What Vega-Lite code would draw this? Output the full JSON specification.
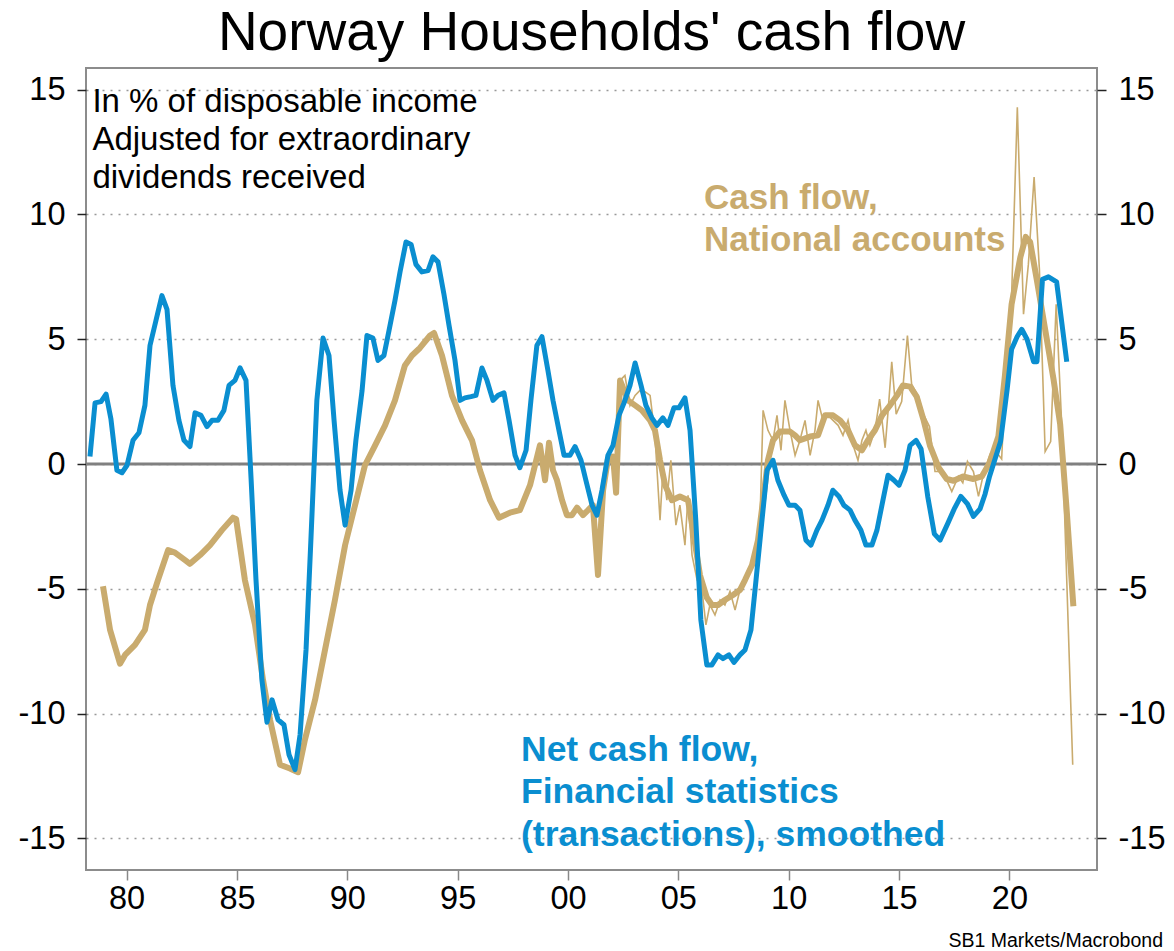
{
  "$schema": "https://vega.github.io/schema/vega-lite/v6.json",
  "width": 1011,
  "height": 802,
  "autosize": {"type": "none"},
  "padding": {"left": 86, "top": 68, "right": 77, "bottom": 81},
  "background": "white",
  "config": {
    "font": "Liberation Sans",
    "view": {"stroke": "#8c8c8c", "strokeWidth": 2},
    "axis": {"labelFont": "Liberation Sans", "labelColor": "black"}
  },
  "title": {"text": "Norway Households' cash flow", "fontSize": 55, "fontWeight": "normal", "color": "black", "anchor": "middle", "offset": 6, "font": "Liberation Sans"},
  "datasets": {
    "blue": [
      {"t":1978.34,"v":0.3},{"t":1978.57,"v":2.45},{"t":1978.84,"v":2.5},{"t":1979.07,"v":2.8},{"t":1979.29,"v":1.8},{"t":1979.56,"v":-0.25},{"t":1979.79,"v":-0.35},{"t":1980.02,"v":-0.05},{"t":1980.29,"v":0.95},{"t":1980.56,"v":1.25},{"t":1980.83,"v":2.35},{"t":1981.06,"v":4.75},{"t":1981.33,"v":5.75},{"t":1981.6,"v":6.75},{"t":1981.83,"v":6.2},{"t":1982.1,"v":3.15},{"t":1982.37,"v":1.75},{"t":1982.6,"v":0.95},{"t":1982.87,"v":0.7},{"t":1983.1,"v":2.05},{"t":1983.37,"v":1.95},{"t":1983.64,"v":1.5},{"t":1983.87,"v":1.75},{"t":1984.14,"v":1.75},{"t":1984.41,"v":2.15},{"t":1984.64,"v":3.15},{"t":1984.91,"v":3.35},{"t":1985.14,"v":3.85},{"t":1985.41,"v":3.35},{"t":1985.64,"v":-0.6},{"t":1985.86,"v":-4.6},{"t":1986.13,"v":-8.65},{"t":1986.36,"v":-10.35},{"t":1986.59,"v":-9.45},{"t":1986.86,"v":-10.25},{"t":1987.13,"v":-10.45},{"t":1987.36,"v":-11.65},{"t":1987.63,"v":-12.25},{"t":1987.86,"v":-10.85},{"t":1988.13,"v":-7.45},{"t":1988.35,"v":-3.05},{"t":1988.62,"v":2.55},{"t":1988.9,"v":5.05},{"t":1989.17,"v":4.35},{"t":1989.4,"v":1.75},{"t":1989.67,"v":-1.05},{"t":1989.9,"v":-2.45},{"t":1990.17,"v":-1.05},{"t":1990.39,"v":0.95},{"t":1990.67,"v":2.95},{"t":1990.89,"v":5.15},{"t":1991.16,"v":5.05},{"t":1991.39,"v":4.15},{"t":1991.66,"v":4.35},{"t":1991.89,"v":5.35},{"t":1992.16,"v":6.55},{"t":1992.39,"v":7.7},{"t":1992.66,"v":8.9},{"t":1992.89,"v":8.8},{"t":1993.11,"v":8.0},{"t":1993.38,"v":7.7},{"t":1993.66,"v":7.75},{"t":1993.88,"v":8.3},{"t":1994.11,"v":8.1},{"t":1994.38,"v":6.8},{"t":1994.61,"v":5.55},{"t":1994.88,"v":4.15},{"t":1995.11,"v":2.55},{"t":1995.33,"v":2.65},{"t":1995.6,"v":2.7},{"t":1995.83,"v":2.75},{"t":1996.1,"v":3.85},{"t":1996.33,"v":3.35},{"t":1996.6,"v":2.55},{"t":1996.83,"v":2.75},{"t":1997.1,"v":2.85},{"t":1997.33,"v":1.75},{"t":1997.6,"v":0.35},{"t":1997.82,"v":-0.15},{"t":1998.1,"v":0.55},{"t":1998.32,"v":2.55},{"t":1998.59,"v":4.75},{"t":1998.82,"v":5.1},{"t":1999.09,"v":3.75},{"t":1999.32,"v":2.55},{"t":1999.59,"v":1.35},{"t":1999.82,"v":0.35},{"t":2000.09,"v":0.35},{"t":2000.32,"v":0.7},{"t":2000.59,"v":0.15},{"t":2000.81,"v":-0.65},{"t":2001.09,"v":-1.65},{"t":2001.31,"v":-2.05},{"t":2001.54,"v":-1.05},{"t":2001.81,"v":0.35},{"t":2002.04,"v":0.75},{"t":2002.31,"v":1.95},{"t":2002.54,"v":2.45},{"t":2002.81,"v":3.15},{"t":2003.04,"v":4.05},{"t":2003.31,"v":3.15},{"t":2003.53,"v":2.35},{"t":2003.8,"v":1.85},{"t":2004.03,"v":1.55},{"t":2004.3,"v":1.85},{"t":2004.53,"v":1.55},{"t":2004.8,"v":2.25},{"t":2005.03,"v":2.25},{"t":2005.3,"v":2.65},{"t":2005.53,"v":1.35},{"t":2005.79,"v":-2.25},{"t":2006.02,"v":-6.25},{"t":2006.29,"v":-8.05},{"t":2006.52,"v":-8.05},{"t":2006.8,"v":-7.65},{"t":2007.02,"v":-7.8},{"t":2007.29,"v":-7.65},{"t":2007.52,"v":-7.95},{"t":2007.79,"v":-7.65},{"t":2008.02,"v":-7.45},{"t":2008.29,"v":-6.65},{"t":2008.52,"v":-4.65},{"t":2008.79,"v":-2.25},{"t":2009.02,"v":-0.25},{"t":2009.29,"v":0.15},{"t":2009.51,"v":-0.65},{"t":2009.79,"v":-1.25},{"t":2010.01,"v":-1.65},{"t":2010.29,"v":-1.65},{"t":2010.51,"v":-1.85},{"t":2010.78,"v":-3.05},{"t":2011.01,"v":-3.25},{"t":2011.28,"v":-2.65},{"t":2011.51,"v":-2.25},{"t":2011.78,"v":-1.65},{"t":2012.0,"v":-1.05},{"t":2012.28,"v":-1.3},{"t":2012.5,"v":-1.65},{"t":2012.78,"v":-1.85},{"t":2013.0,"v":-2.25},{"t":2013.27,"v":-2.65},{"t":2013.5,"v":-3.25},{"t":2013.77,"v":-3.25},{"t":2014.0,"v":-2.65},{"t":2014.27,"v":-1.45},{"t":2014.5,"v":-0.45},{"t":2014.77,"v":-0.65},{"t":2015.0,"v":-0.85},{"t":2015.27,"v":-0.25},{"t":2015.5,"v":0.75},{"t":2015.77,"v":0.95},{"t":2016.0,"v":0.6},{"t":2016.3,"v":-1.3},{"t":2016.6,"v":-2.8},{"t":2016.86,"v":-3.05},{"t":2017.2,"v":-2.4},{"t":2017.5,"v":-1.8},{"t":2017.8,"v":-1.3},{"t":2018.1,"v":-1.6},{"t":2018.37,"v":-2.1},{"t":2018.67,"v":-1.8},{"t":2018.9,"v":-1.2},{"t":2019.1,"v":-0.5},{"t":2019.35,"v":0.2},{"t":2019.6,"v":0.9},{"t":2019.9,"v":3.0},{"t":2020.1,"v":4.6},{"t":2020.35,"v":5.1},{"t":2020.56,"v":5.4},{"t":2020.8,"v":5.0},{"t":2021.1,"v":4.1},{"t":2021.25,"v":4.1},{"t":2021.5,"v":7.4},{"t":2021.77,"v":7.5},{"t":2022.14,"v":7.3},{"t":2022.6,"v":4.1}
    ],
    "thick": [
      {"t":1978.93,"v":-4.9},{"t":1979.25,"v":-6.65},{"t":1979.7,"v":-8.0},{"t":1979.93,"v":-7.65},{"t":1980.38,"v":-7.25},{"t":1980.83,"v":-6.65},{"t":1981.06,"v":-5.65},{"t":1981.42,"v":-4.65},{"t":1981.88,"v":-3.45},{"t":1982.19,"v":-3.55},{"t":1982.65,"v":-3.85},{"t":1982.87,"v":-4.0},{"t":1983.33,"v":-3.65},{"t":1983.78,"v":-3.25},{"t":1984.32,"v":-2.65},{"t":1984.82,"v":-2.15},{"t":1984.96,"v":-2.2},{"t":1985.36,"v":-4.65},{"t":1985.82,"v":-6.45},{"t":1986.18,"v":-8.65},{"t":1986.5,"v":-10.25},{"t":1986.95,"v":-12.05},{"t":1987.4,"v":-12.2},{"t":1987.77,"v":-12.35},{"t":1988.08,"v":-11.05},{"t":1988.54,"v":-9.45},{"t":1988.99,"v":-7.45},{"t":1989.44,"v":-5.45},{"t":1989.9,"v":-3.25},{"t":1990.35,"v":-1.65},{"t":1990.8,"v":-0.05},{"t":1991.26,"v":0.75},{"t":1991.71,"v":1.55},{"t":1992.16,"v":2.55},{"t":1992.61,"v":3.95},{"t":1992.93,"v":4.35},{"t":1993.29,"v":4.65},{"t":1993.75,"v":5.15},{"t":1993.93,"v":5.25},{"t":1994.29,"v":4.35},{"t":1994.74,"v":2.75},{"t":1995.2,"v":1.75},{"t":1995.65,"v":0.95},{"t":1996.01,"v":-0.25},{"t":1996.47,"v":-1.45},{"t":1996.87,"v":-2.15},{"t":1997.37,"v":-1.95},{"t":1997.82,"v":-1.85},{"t":1998.28,"v":-0.85},{"t":1998.73,"v":0.75},{"t":1998.96,"v":-0.65},{"t":1999.14,"v":0.85},{"t":1999.32,"v":-0.25},{"t":1999.5,"v":-0.65},{"t":1999.73,"v":-1.45},{"t":1999.95,"v":-2.05},{"t":2000.18,"v":-2.05},{"t":2000.41,"v":-1.75},{"t":2000.68,"v":-2.05},{"t":2000.91,"v":-1.85},{"t":2001.13,"v":-1.65},{"t":2001.36,"v":-4.45},{"t":2001.59,"v":-1.05},{"t":2001.81,"v":0.2},{"t":2002.04,"v":0.3},{"t":2002.18,"v":-1.15},{"t":2002.36,"v":3.35},{"t":2002.72,"v":2.55},{"t":2003.04,"v":2.35},{"t":2003.35,"v":2.15},{"t":2003.72,"v":1.75},{"t":2003.94,"v":1.35},{"t":2004.17,"v":0.15},{"t":2004.4,"v":-0.85},{"t":2004.71,"v":-1.45},{"t":2005.07,"v":-1.3},{"t":2005.44,"v":-1.45},{"t":2005.66,"v":-2.65},{"t":2005.98,"v":-4.45},{"t":2006.29,"v":-5.35},{"t":2006.52,"v":-5.65},{"t":2006.8,"v":-5.65},{"t":2007.11,"v":-5.45},{"t":2007.48,"v":-5.25},{"t":2007.79,"v":-5.05},{"t":2008.02,"v":-4.65},{"t":2008.34,"v":-4.05},{"t":2008.61,"v":-3.05},{"t":2008.84,"v":-1.45},{"t":2009.06,"v":0.15},{"t":2009.29,"v":0.95},{"t":2009.6,"v":1.3},{"t":2010.06,"v":1.3},{"t":2010.29,"v":1.15},{"t":2010.51,"v":0.95},{"t":2010.97,"v":1.1},{"t":2011.33,"v":1.15},{"t":2011.65,"v":1.95},{"t":2012.01,"v":1.95},{"t":2012.33,"v":1.75},{"t":2012.69,"v":1.35},{"t":2013.0,"v":0.75},{"t":2013.32,"v":0.55},{"t":2013.59,"v":0.95},{"t":2013.91,"v":1.35},{"t":2014.23,"v":1.95},{"t":2014.59,"v":2.35},{"t":2014.91,"v":2.75},{"t":2015.18,"v":3.15},{"t":2015.5,"v":3.1},{"t":2015.8,"v":2.7},{"t":2016.1,"v":1.8},{"t":2016.4,"v":0.74},{"t":2016.8,"v":-0.15},{"t":2017.16,"v":-0.6},{"t":2017.47,"v":-0.67},{"t":2017.9,"v":-0.5},{"t":2018.37,"v":-0.6},{"t":2018.75,"v":-0.5},{"t":2019.1,"v":0.04},{"t":2019.5,"v":1.1},{"t":2019.8,"v":3.56},{"t":2020.1,"v":6.4},{"t":2020.5,"v":8.3},{"t":2020.74,"v":9.1},{"t":2020.94,"v":8.9},{"t":2021.24,"v":7.4},{"t":2021.6,"v":5.5},{"t":2022.0,"v":3.4},{"t":2022.3,"v":1.6},{"t":2022.6,"v":-1.9},{"t":2022.9,"v":-5.7}
    ],
    "thin": [
      {"t":2001.59,"v":-1.05},{"t":2001.81,"v":0.2},{"t":2002.04,"v":0.35},{"t":2002.18,"v":-1.15},{"t":2002.36,"v":3.35},{"t":2002.58,"v":3.55},{"t":2002.81,"v":2.35},{"t":2003.04,"v":2.75},{"t":2003.26,"v":2.95},{"t":2003.49,"v":2.9},{"t":2003.72,"v":2.75},{"t":2003.94,"v":1.15},{"t":2004.17,"v":-2.25},{"t":2004.3,"v":-0.25},{"t":2004.48,"v":-1.45},{"t":2004.66,"v":0.15},{"t":2004.89,"v":-2.45},{"t":2005.07,"v":-1.65},{"t":2005.3,"v":-3.25},{"t":2005.44,"v":-1.25},{"t":2005.62,"v":-3.65},{"t":2005.85,"v":-4.65},{"t":2006.07,"v":-5.05},{"t":2006.25,"v":-6.45},{"t":2006.43,"v":-5.65},{"t":2006.66,"v":-6.05},{"t":2006.89,"v":-5.45},{"t":2007.11,"v":-5.65},{"t":2007.34,"v":-5.1},{"t":2007.57,"v":-5.85},{"t":2007.79,"v":-5.05},{"t":2008.02,"v":-4.75},{"t":2008.25,"v":-4.25},{"t":2008.47,"v":-3.85},{"t":2008.7,"v":-2.25},{"t":2008.84,"v":2.15},{"t":2009.06,"v":1.35},{"t":2009.29,"v":0.95},{"t":2009.47,"v":1.95},{"t":2009.65,"v":0.55},{"t":2009.83,"v":2.55},{"t":2010.06,"v":1.35},{"t":2010.29,"v":0.35},{"t":2010.51,"v":0.95},{"t":2010.74,"v":1.75},{"t":2010.97,"v":0.35},{"t":2011.19,"v":1.35},{"t":2011.33,"v":2.55},{"t":2011.55,"v":1.75},{"t":2011.78,"v":1.95},{"t":2012.01,"v":1.75},{"t":2012.24,"v":1.55},{"t":2012.46,"v":1.15},{"t":2012.69,"v":1.75},{"t":2012.92,"v":0.75},{"t":2013.14,"v":0.15},{"t":2013.32,"v":0.95},{"t":2013.5,"v":1.35},{"t":2013.68,"v":0.75},{"t":2013.91,"v":1.35},{"t":2014.12,"v":2.6},{"t":2014.37,"v":0.65},{"t":2014.52,"v":2.3},{"t":2014.67,"v":4.1},{"t":2014.87,"v":2.0},{"t":2015.12,"v":2.5},{"t":2015.38,"v":5.15},{"t":2015.57,"v":3.2},{"t":2015.88,"v":2.7},{"t":2016.1,"v":2.0},{"t":2016.38,"v":1.5},{"t":2016.63,"v":-0.3},{"t":2016.86,"v":-0.3},{"t":2017.13,"v":-0.6},{"t":2017.39,"v":-1.1},{"t":2017.69,"v":-0.5},{"t":2017.89,"v":-0.75},{"t":2018.1,"v":0.1},{"t":2018.37,"v":-0.3},{"t":2018.6,"v":-1.3},{"t":2018.85,"v":-0.3},{"t":2019.13,"v":0.4},{"t":2019.35,"v":0.55},{"t":2019.65,"v":0.2},{"t":2019.88,"v":4.6},{"t":2020.1,"v":6.7},{"t":2020.36,"v":14.3},{"t":2020.64,"v":6.0},{"t":2020.86,"v":8.0},{"t":2021.12,"v":11.5},{"t":2021.36,"v":7.8},{"t":2021.62,"v":0.5},{"t":2021.87,"v":0.9},{"t":2022.12,"v":6.4},{"t":2022.37,"v":1.6},{"t":2022.87,"v":-12.05}
    ],
    "zero": [{"v": 0}],
    "note": [{"t": 1978.45, "v": 14.51, "text": "In % of disposable income\nAdjusted for extraordinary\ndividends received"}],
    "tanlabel": [{"t": 2006.16, "v": 10.66, "text": "Cash flow,\nNational accounts"}],
    "bluelabel": [{"t": 1997.87, "v": -11.46, "text": "Net cash flow,\nFinancial statistics\n(transactions), smoothed"}],
    "source": [{"t": 2026.96, "v": -19.12, "text": "SB1 Markets/Macrobond"}]
  },
  "resolve": {"axis": {"y": "independent"}},
  "layer": [
    {
      "data": {"name": "zero"},
      "mark": {"type": "rule", "color": "#808080", "strokeWidth": 3},
      "encoding": {
        "y": {"field": "v", "type": "quantitative", "scale": {"domain": [-16.27, 15.87], "nice": false, "zero": false},
          "axis": {"orient": "left", "values": [-15, -10, -5, 0, 5, 10, 15], "labelExpr": "toString(datum.value)", "grid": true, "gridDash": [2, 6], "gridColor": "#999999", "gridWidth": 1.5, "domain": false, "tickColor": "#222222", "tickSize": 9, "tickWidth": 1.5, "labelPadding": 12, "labelFontSize": 32.5, "title": null}}
      }
    },
    {
      "data": {"name": "thin"},
      "mark": {"type": "line", "color": "#C9AB6E", "strokeWidth": 1.6, "clip": true},
      "encoding": {
        "x": {"field": "t", "type": "quantitative", "scale": {"domain": [1978.16, 2023.97], "nice": false, "zero": false},
          "axis": {"values": [1980, 1985, 1990, 1995, 2000, 2005, 2010, 2015, 2020], "labelExpr": "substring(toString(datum.value), 2, 4)", "grid": false, "domain": false, "tickColor": "#888888", "tickSize": 10, "tickWidth": 1.5, "labelPadding": 2, "labelFontSize": 32.5, "title": null}},
        "y": {"field": "v", "type": "quantitative",
          "axis": {"orient": "right", "values": [-15, -10, -5, 0, 5, 10, 15], "labelExpr": "toString(datum.value)", "grid": false, "domain": false, "tickColor": "#222222", "tickSize": 9, "tickWidth": 1.5, "labelPadding": 12, "labelFontSize": 32.5, "title": null}}
      }
    },
    {
      "data": {"name": "thick"},
      "mark": {"type": "line", "color": "#C9AB6E", "strokeWidth": 6, "strokeJoin": "round"},
      "encoding": {
        "x": {"field": "t", "type": "quantitative"},
        "y": {"field": "v", "type": "quantitative", "axis": null}
      }
    },
    {
      "data": {"name": "blue"},
      "mark": {"type": "line", "color": "#0A8ED0", "strokeWidth": 5, "strokeJoin": "round"},
      "encoding": {
        "x": {"field": "t", "type": "quantitative"},
        "y": {"field": "v", "type": "quantitative", "axis": null}
      }
    },
    {
      "data": {"name": "note"},
      "mark": {"type": "text", "align": "left", "baseline": "middle", "fontSize": 33, "lineHeight": 38, "lineBreak": "\n", "color": "black"},
      "encoding": {
        "x": {"field": "t", "type": "quantitative"},
        "y": {"field": "v", "type": "quantitative", "axis": null},
        "text": {"field": "text"}
      }
    },
    {
      "data": {"name": "tanlabel"},
      "mark": {"type": "text", "align": "left", "baseline": "middle", "fontSize": 35, "fontWeight": "bold", "lineHeight": 42, "lineBreak": "\n", "color": "#C9AB6E"},
      "encoding": {
        "x": {"field": "t", "type": "quantitative"},
        "y": {"field": "v", "type": "quantitative", "axis": null},
        "text": {"field": "text"}
      }
    },
    {
      "data": {"name": "bluelabel"},
      "mark": {"type": "text", "align": "left", "baseline": "middle", "fontSize": 35.5, "fontWeight": "bold", "lineHeight": 42.5, "lineBreak": "\n", "color": "#0A8ED0"},
      "encoding": {
        "x": {"field": "t", "type": "quantitative"},
        "y": {"field": "v", "type": "quantitative", "axis": null},
        "text": {"field": "text"}
      }
    },
    {
      "data": {"name": "source"},
      "mark": {"type": "text", "align": "right", "baseline": "middle", "fontSize": 19.5, "color": "black", "clip": false},
      "encoding": {
        "x": {"field": "t", "type": "quantitative"},
        "y": {"field": "v", "type": "quantitative", "axis": null},
        "text": {"field": "text"}
      }
    }
  ]
}
